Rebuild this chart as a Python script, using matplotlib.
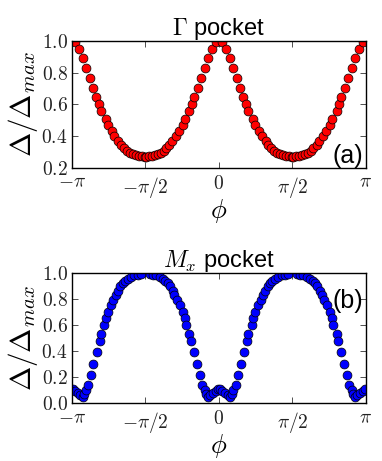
import numpy as np
import matplotlib.pyplot as plt
from matplotlib.ticker import FuncFormatter

plt.rcParams['mathtext.fontset'] = 'cm'
plt.rcParams['font.family'] = ['Liberation Sans', 'DejaVu Sans']

# Gamma pocket: angle (units of pi) and normalised gap
phi_gamma = [-0.978, -0.950, -0.926, -0.906, -0.876, -0.856, -0.833, -0.816, -0.800, -0.770,
             -0.753, -0.727, -0.710, -0.683, -0.664, -0.643, -0.624, -0.605, -0.585, -0.566,
             -0.546, -0.524, -0.502,
             -0.498, -0.476, -0.454, -0.434, -0.415, -0.395, -0.376, -0.357, -0.336, -0.317,
             -0.290, -0.273, -0.247, -0.230, -0.200, -0.184, -0.167, -0.144, -0.124, -0.094,
             -0.074, -0.050, -0.022,
             0.022, 0.050, 0.074, 0.094, 0.124, 0.144, 0.167, 0.184, 0.200, 0.230,
             0.247, 0.273, 0.290, 0.317, 0.336, 0.357, 0.376, 0.395, 0.415, 0.434,
             0.454, 0.476, 0.498,
             0.502, 0.524, 0.546, 0.566, 0.585, 0.605, 0.624, 0.643, 0.664, 0.683,
             0.710, 0.727, 0.753, 0.770, 0.800, 0.816, 0.833, 0.856, 0.876, 0.906,
             0.926, 0.950, 0.978]
gap_gamma = [0.990, 0.948, 0.889, 0.828, 0.763, 0.702, 0.649, 0.603, 0.559, 0.507,
             0.471, 0.429, 0.402, 0.370, 0.345, 0.324, 0.307, 0.296, 0.286, 0.280,
             0.276, 0.272, 0.271,
             0.271, 0.272, 0.276, 0.280, 0.286, 0.296, 0.307, 0.324, 0.345, 0.370,
             0.402, 0.429, 0.471, 0.507, 0.559, 0.603, 0.649, 0.702, 0.763, 0.828,
             0.889, 0.948, 0.990,
             0.990, 0.948, 0.889, 0.828, 0.763, 0.702, 0.649, 0.603, 0.559, 0.507,
             0.471, 0.429, 0.402, 0.370, 0.345, 0.324, 0.307, 0.296, 0.286, 0.280,
             0.276, 0.272, 0.271,
             0.271, 0.272, 0.276, 0.280, 0.286, 0.296, 0.307, 0.324, 0.345, 0.370,
             0.402, 0.429, 0.471, 0.507, 0.559, 0.603, 0.649, 0.702, 0.763, 0.828,
             0.889, 0.948, 0.990]

# M_x pocket
phi_mx = [-0.993, -0.977, -0.959, -0.941, -0.926, -0.914, -0.903, -0.887, -0.869, -0.853,
          -0.830, -0.807, -0.800, -0.778, -0.767, -0.755, -0.733, -0.717, -0.698, -0.687,
          -0.669, -0.653, -0.637, -0.619, -0.597, -0.574, -0.551, -0.529,
          -0.471, -0.449, -0.426, -0.403, -0.381, -0.363, -0.347, -0.331, -0.313, -0.302,
          -0.283, -0.267, -0.245, -0.233, -0.222, -0.200, -0.193, -0.170, -0.147, -0.131,
          -0.113, -0.097, -0.086, -0.074, -0.059, -0.041, -0.023, -0.007,
          0.007, 0.023, 0.041, 0.059, 0.074, 0.086, 0.097, 0.113, 0.131, 0.147,
          0.170, 0.193, 0.200, 0.222, 0.233, 0.245, 0.267, 0.283, 0.302, 0.313,
          0.331, 0.347, 0.363, 0.381, 0.403, 0.426, 0.449, 0.471,
          0.529, 0.551, 0.574, 0.597, 0.619, 0.637, 0.653, 0.669, 0.687, 0.698,
          0.717, 0.733, 0.755, 0.767, 0.778, 0.800, 0.807, 0.830, 0.853, 0.869,
          0.887, 0.903, 0.914, 0.926, 0.941, 0.959, 0.977, 0.993]
gap_mx = [0.110, 0.095, 0.077, 0.059, 0.045, 0.069, 0.103, 0.136, 0.213, 0.300,
          0.392, 0.479, 0.531, 0.603, 0.654, 0.700, 0.756, 0.795, 0.833, 0.864,
          0.897, 0.923, 0.941, 0.956, 0.972, 0.982, 0.987, 0.993,
          0.993, 0.987, 0.982, 0.972, 0.956, 0.941, 0.923, 0.897, 0.864, 0.833,
          0.795, 0.756, 0.700, 0.654, 0.603, 0.531, 0.479, 0.392, 0.300, 0.213,
          0.136, 0.103, 0.069, 0.045, 0.059, 0.077, 0.095, 0.110,
          0.110, 0.095, 0.077, 0.059, 0.045, 0.069, 0.103, 0.136, 0.213, 0.300,
          0.392, 0.479, 0.531, 0.603, 0.654, 0.700, 0.756, 0.795, 0.833, 0.864,
          0.897, 0.923, 0.941, 0.956, 0.972, 0.982, 0.987, 0.993,
          0.993, 0.987, 0.982, 0.972, 0.956, 0.941, 0.923, 0.897, 0.864, 0.833,
          0.795, 0.756, 0.700, 0.654, 0.603, 0.531, 0.479, 0.392, 0.300, 0.213,
          0.136, 0.103, 0.069, 0.045, 0.059, 0.077, 0.095, 0.110]

xtick_vals = [-np.pi, -np.pi / 2, 0, np.pi / 2, np.pi]
xtick_labels = [r'$-\pi$', r'$-\pi/2$', r'$0$', r'$\pi/2$', r'$\pi$']

fig = plt.figure(figsize=(3.82, 4.61), dpi=100)
ax1 = fig.add_axes([0.188, 0.636, 0.770, 0.2755])
ax2 = fig.add_axes([0.188, 0.126, 0.770, 0.282])

panels = [
    (ax1, phi_gamma, gap_gamma, 'red', r'$\Gamma$ pocket', '(a)', (0.2, 1.0), [0.2, 0.4, 0.6, 0.8, 1.0]),
    (ax2, phi_mx, gap_mx, 'blue', r'$M_x$ pocket', '(b)', (0.0, 1.0), [0.0, 0.2, 0.4, 0.6, 0.8, 1.0]),
]

for ax, phi, gap, col, title, tag, ylim, yticks in panels:
    ax.plot(np.array(phi) * np.pi, gap, 'o', color=col, markeredgecolor='black',
            markeredgewidth=0.5, markersize=6.4)
    ax.set_xlim(-np.pi, np.pi)
    ax.set_ylim(*ylim)
    ax.set_xticks(xtick_vals)
    ax.set_xticklabels(xtick_labels)
    ax.set_yticks(yticks)
    ax.yaxis.set_major_formatter(FuncFormatter(lambda v, p: r'$%.1f$' % v))
    ax.tick_params(direction='in', top=True, right=True, labelsize=14, length=4,
                   width=0.6, colors='#333333', labelcolor='#222222')
    ax.tick_params(axis='x', pad=5)
    ax.tick_params(axis='y', pad=3)
    ax.set_xlabel(r'$\phi$', fontsize=19, labelpad=-2)
    ax.set_ylabel(r'$\Delta/\Delta_{max}$', fontsize=21, labelpad=1)
    ax.set_title(title, fontsize=17, pad=4)
    for s in ax.spines.values():
        s.set_linewidth(1.0)

ax1.text(0.99, 0.0, '(a)', transform=ax1.transAxes, ha='right', va='bottom', fontsize=18)
ax2.text(0.99, 0.88, '(b)', transform=ax2.transAxes, ha='right', va='top', fontsize=18)

fig.savefig('out.png', dpi=100)
